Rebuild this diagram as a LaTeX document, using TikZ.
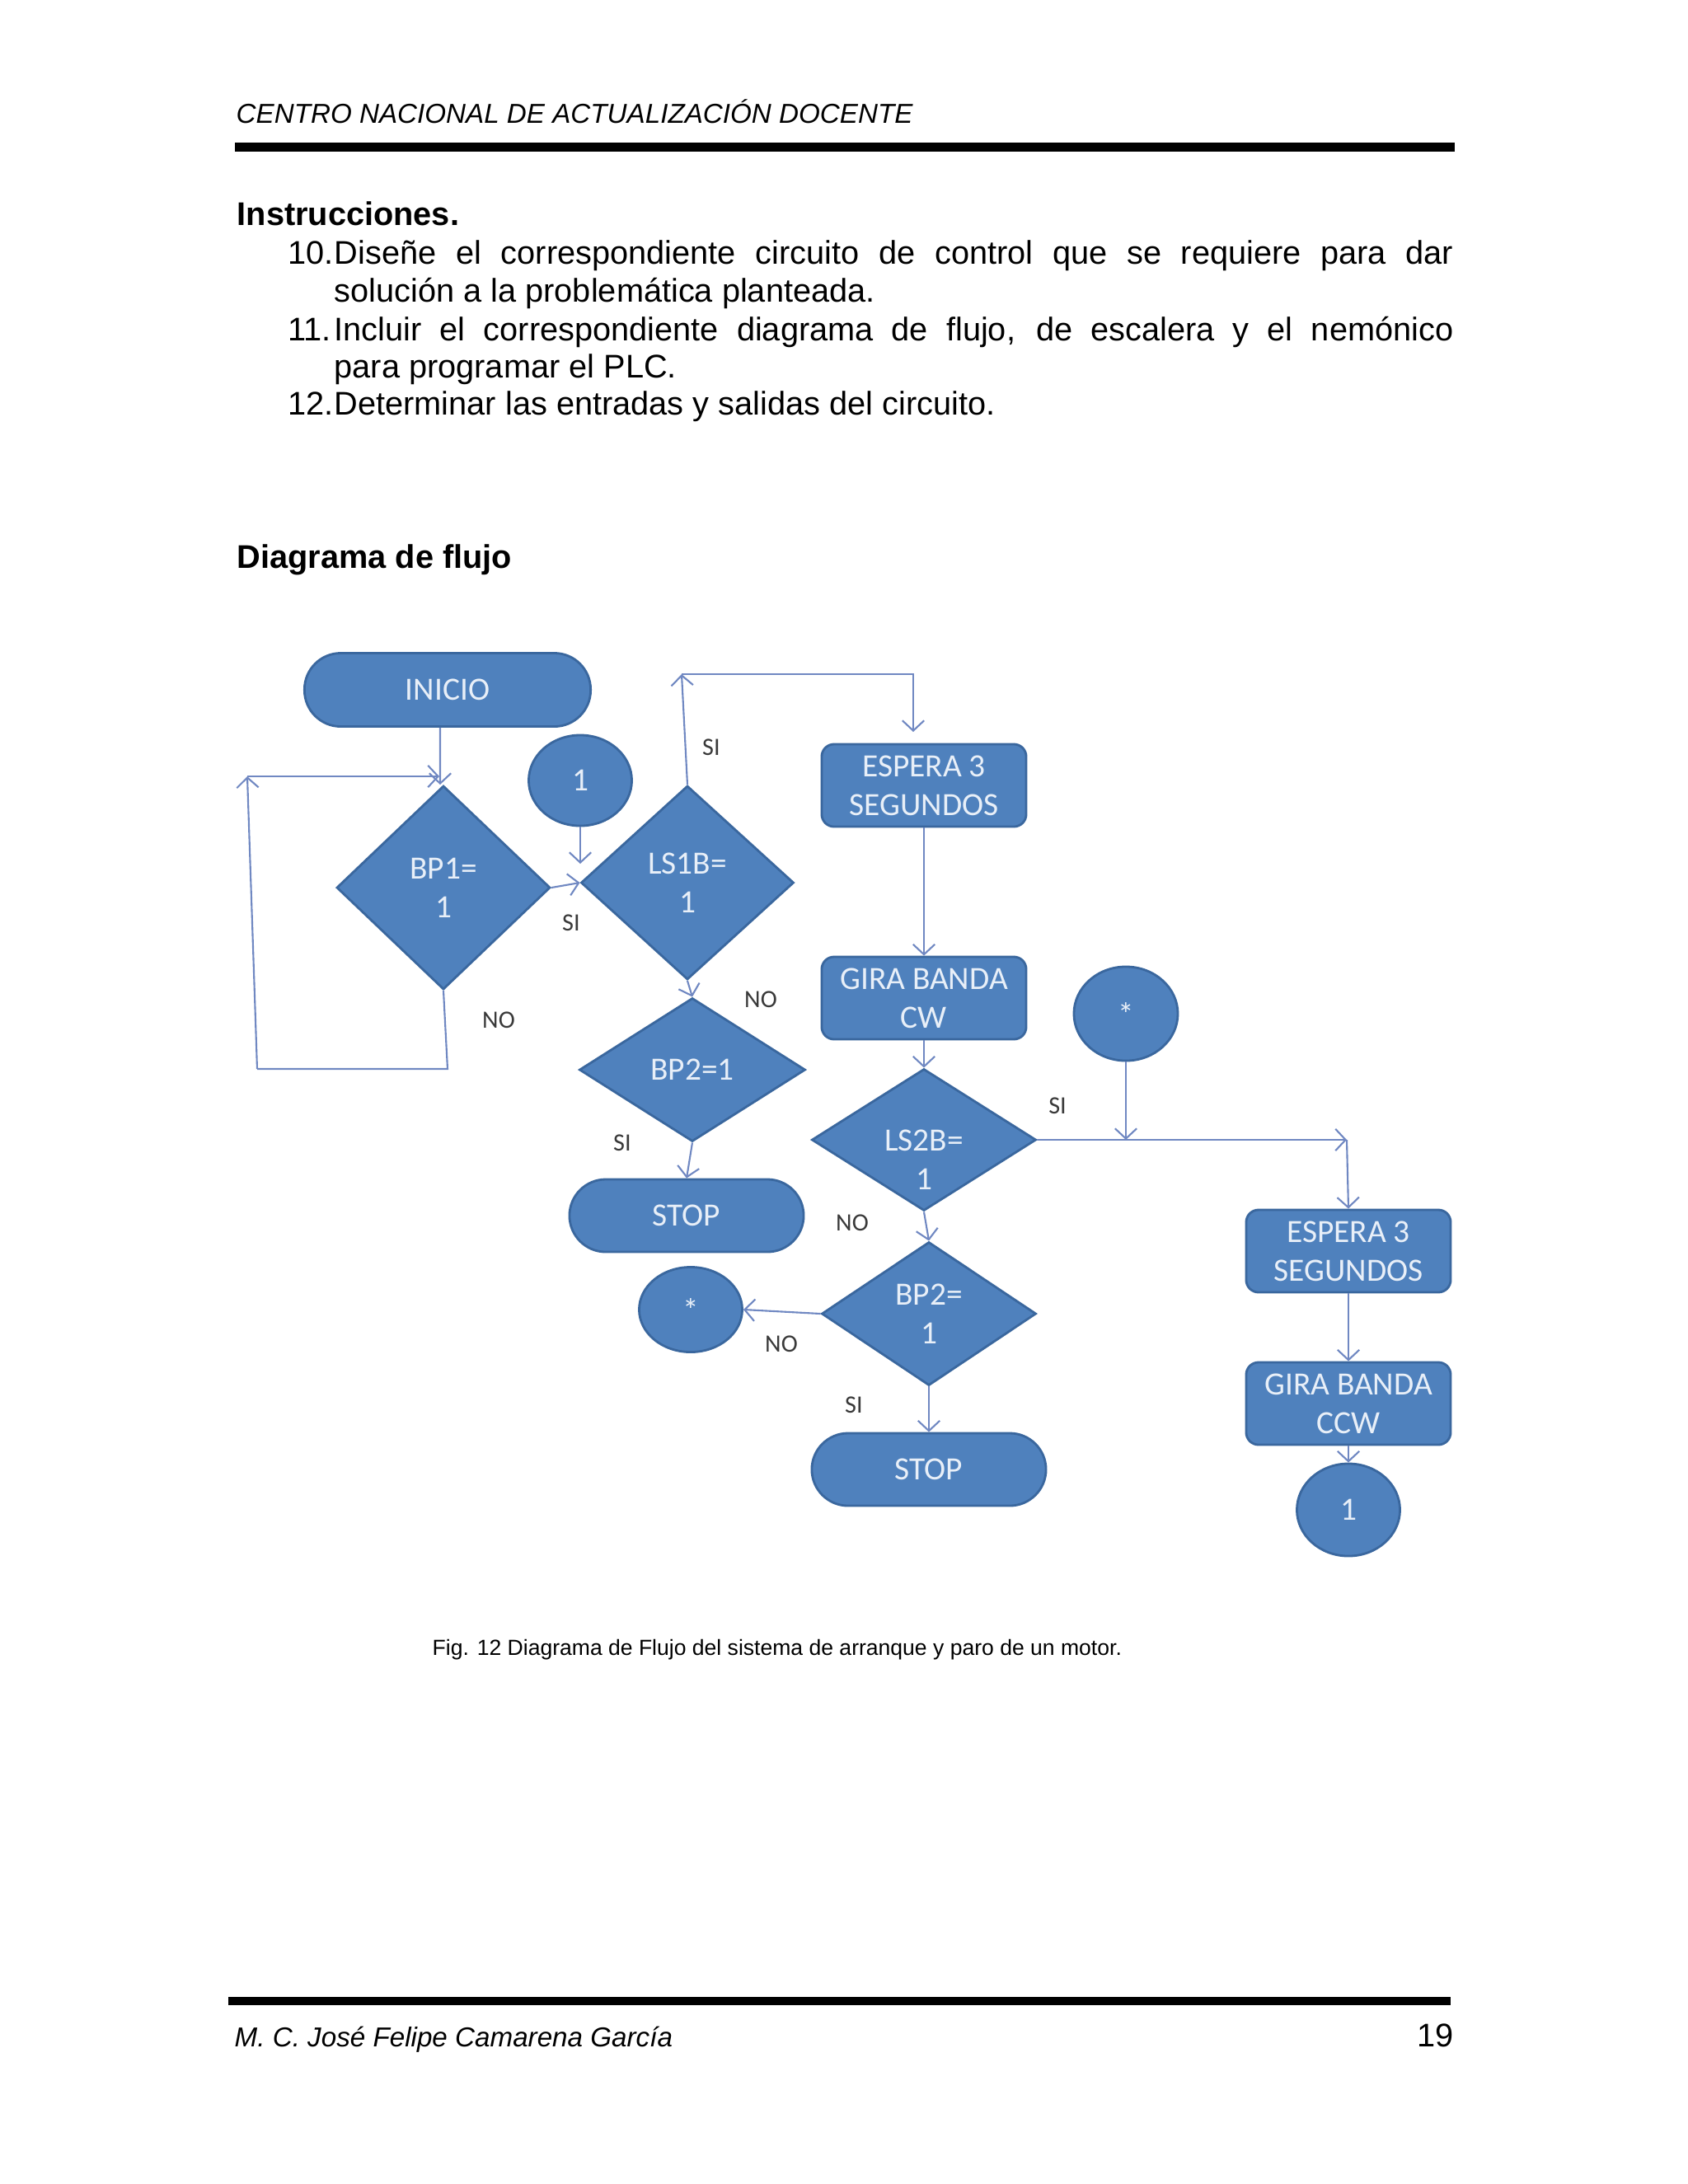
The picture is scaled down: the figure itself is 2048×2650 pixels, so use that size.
\documentclass[tikz,border=0pt]{standalone}
\usepackage{fontspec}
\setmainfont{Liberation Sans}
\newfontfamily\calib{Carlito}
\usetikzlibrary{shapes.geometric,arrows.meta}
\definecolor{shapefill}{HTML}{4F81BD}
\definecolor{shapeedge}{HTML}{3A679E}
\definecolor{shapetext}{HTML}{E8EFF8}
\definecolor{conncol}{HTML}{7088C2}
\definecolor{labcol}{HTML}{3A3A3A}
\tikzset{
  pg/.style={inner sep=0pt, anchor=base west},
  bodyfont/.style={font=\fontsize{11.3}{13.2}\selectfont},
  shptext/.style={text=shapetext, font=\calib\fontsize{11.2}{13.4}\selectfont, align=center, inner sep=0pt},
  shp/.style={shptext, fill=shapefill, draw=shapeedge, line width=0.8pt},
  term/.style={shp, rectangle, rounded corners=0.44cm},
  procbox/.style={shp, rectangle, rounded corners=0.15cm, minimum width=2.48cm, minimum height=1.0cm},
  decis/.style={shp, diamond},
  conn/.style={shp, ellipse, minimum width=1.25cm},
  arr/.style={draw=conncol, line width=0.6pt, -{Straight Barb[length=3.5pt,width=7.5pt]}},
  ln/.style={draw=conncol, line width=0.6pt},
  lab/.style={font=\calib\fontsize{8.6}{10}\selectfont, text=labcol, inner sep=0pt}
}
\begin{document}
\begin{tikzpicture}[x={(0.01cm,0)}, y={(0,-0.01cm)}]
\fill[white] (0,0) rectangle (2048,2650);
\useasboundingbox (0,0) rectangle (2048,2650);

% header and footer
\node[pg, font=\itshape\fontsize{9.44}{11}\selectfont] (hdr) at (286,149) {CENTRO NACIONAL DE ACTUALIZACIÓN DOCENTE};
\fill[black] (285,173) rectangle (1765,184);
\fill[black] (277,2423) rectangle (1760,2433);
\node[pg, font=\itshape\fontsize{9.44}{11}\selectfont] (ftr) at (284,2483) {M. C. José Felipe Camarena García};
\node[inner sep=0pt, anchor=base east, bodyfont] (pgnum) at (1764,2483) {19};

% body text
\node[pg, font=\bfseries\fontsize{11.3}{13.2}\selectfont] (instr) at (287,273) {Instrucciones.};
\node[pg, bodyfont] (n10) at (349,320) {10.};
\node[pg, bodyfont] (l10a) at (405,320) {\makebox[13.57cm][s]{Diseñe el correspondiente circuito de control que se requiere para dar}};
\node[pg, bodyfont] (l10b) at (405,366) {solución a la problemática planteada.};
\node[pg, bodyfont] (n11) at (349,413) {11.};
\node[pg, bodyfont] (l11a) at (405,413) {\makebox[13.57cm][s]{Incluir el correspondiente diagrama de flujo, de escalera y el nemónico}};
\node[pg, bodyfont] (l11b) at (405,458) {para programar el PLC.};
\node[pg, bodyfont] (n12) at (349,503) {12.};
\node[pg, bodyfont] (l12a) at (405,503) {Determinar las entradas y salidas del circuito.};
\node[pg, font=\bfseries\fontsize{11.3}{13.2}\selectfont] (dtitle) at (287,689) {Diagrama de flujo};

\node[pg, font=\fontsize{7.55}{9}\selectfont] (cap) at (524,2008) {Fig. 12 Diagrama de Flujo del sistema de arranque y paro de un motor.};

% flowchart nodes
\node[term, minimum width=3.47cm, minimum height=0.89cm] (inicio) at (543,837) {INICIO};
\node[conn, minimum height=1.10cm] (c1) at (704,947) {1};
\node[decis, minimum width=2.59cm, minimum height=2.47cm] (bp1) at (538,1077) {BP1=\\1};
\node[decis, minimum width=2.58cm, minimum height=2.35cm] (ls1b) at (834,1071) {LS1B=\\1};
\node[decis, minimum width=2.74cm, minimum height=1.74cm] (bp2a) at (840,1298) {BP2=1};
\node[term, minimum width=2.84cm, minimum height=0.88cm] (stop1) at (833,1475) {STOP};
\node[procbox] (esp1) at (1121,953) {ESPERA 3\\SEGUNDOS};
\node[procbox] (gira1) at (1121,1211) {GIRA BANDA\\CW};
\node[decis, minimum width=2.72cm, minimum height=1.72cm] (ls2b) at (1121,1383) {};
\node[shptext] (ls2btxt) at (1121,1407) {LS2B=\\1};
\node[decis, minimum width=2.60cm, minimum height=1.74cm] (bp2b) at (1127,1594) {BP2=\\1};
\node[term, minimum width=2.84cm, minimum height=0.88cm] (stop2) at (1127,1783) {STOP};
\node[conn, minimum height=1.03cm] (star1) at (838,1589) {*};
\node[conn, minimum width=1.26cm, minimum height=1.14cm] (star2) at (1366,1230) {*};
\node[procbox] (esp2) at (1636,1518) {ESPERA 3\\SEGUNDOS};
\node[procbox] (gira2) at (1636,1703) {GIRA BANDA\\CCW};
\node[conn, minimum height=1.12cm] (c1b) at (1636,1832) {1};

% helper coordinates
\coordinate (a1) at (543,1297);
\coordinate (a2) at (312,1297);
\coordinate (a3) at (300,942);
\coordinate (a4) at (533,942);
\coordinate (c1end) at (704,1048);
\coordinate (b1) at (827,818);
\coordinate (b2) at (1108,818);
\coordinate (b3) at (1108,888);
\coordinate (d1) at (1634,1383);
\coordinate (d2) at (1366,1383);

% connectors
\draw[arr] ([xshift=-0.09cm]inicio.south) -- ([xshift=-0.04cm]bp1.north);
\draw[ln] (bp1.south) -- (a1) -- (a2);
\draw[arr] (a2) -- (a3);
\draw[arr] (a3) -- (a4);
\draw[arr] (bp1.east) -- (ls1b.west);
\draw[arr] (c1.south) -- (c1end);
\draw[arr] (ls1b.north) -- (b1);
\draw[arr] (b1) -- (b2) -- (b3);
\draw[arr] (esp1.south) -- (gira1.north);
\draw[arr] (ls1b.south) -- (bp2a.north);
\draw[arr] (bp2a.south) -- (stop1.north);
\draw[arr] (gira1.south) -- (ls2b.north);
\draw[arr] (ls2b.east) -- (d1);
\draw[arr] (d1) -- (esp2.north);
\draw[arr] (star2.south) -- (d2);
\draw[arr] (ls2b.south) -- (bp2b.north);
\draw[arr] (bp2b.west) -- (star1.east);
\draw[arr] (bp2b.south) -- (stop2.north);
\draw[arr] (esp2.south) -- (gira2.north);
\draw[arr] (gira2.south) -- (c1b.north);

% labels
\node[lab] (s1) at (693,1120) {SI};
\node[lab] (n1) at (605,1238) {NO};
\node[lab] (s2) at (863,907) {SI};
\node[lab] (n2) at (923,1213) {NO};
\node[lab] (s3) at (755,1387) {SI};
\node[lab] (s4) at (1283,1342) {SI};
\node[lab] (n3) at (1034,1484) {NO};
\node[lab] (n4) at (948,1631) {NO};
\node[lab] (s5) at (1036,1705) {SI};
\end{tikzpicture}
\end{document}
